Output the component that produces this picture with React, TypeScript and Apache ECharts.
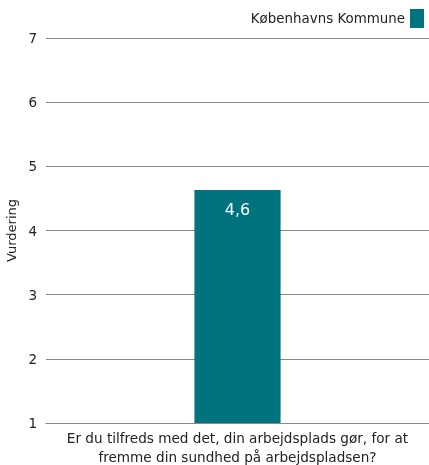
import React, { useEffect, useRef } from "react";
import * as echarts from "echarts";

const categories = ["Er du tilfreds med det, din arbejdsplads gør, for at\nfremme din sundhed på arbejdspladsen?"];
const seriesName = "Københavns Kommune";
const values = [4.63];
const yTicks = [1, 2, 3, 4, 5, 6, 7];

export default function App() {
  const ref = useRef<HTMLDivElement>(null);
  useEffect(() => {
    if (!ref.current) return;
    const chart = echarts.init(ref.current, undefined, { renderer: "svg" });
    const font = "Tahoma, 'DejaVu Sans', sans-serif";
    chart.setOption({
      animation: false,
      textStyle: { fontFamily: font },
      legend: {
        data: [seriesName],
        right: 0,
        top: 4,
        itemWidth: 14,
        itemHeight: 19,
        itemGap: 5,
        align: "right",
        textStyle: { fontSize: 13.4, color: "#222", fontFamily: font },
        icon: "rect",
      },
      grid: { left: 46, right: 0, top: 38, bottom: 42, outerBoundsMode: "none", containLabel: false },
      xAxis: {
        type: "category",
        data: categories,
        axisTick: { show: false },
        axisLine: { lineStyle: { color: "#888" } },
        axisLabel: { fontSize: 13.6, color: "#222", lineHeight: 19, margin: 5, fontFamily: font },
      },
      yAxis: {
        type: "value",
        min: yTicks[0],
        max: yTicks[yTicks.length - 1],
        interval: 1,
        name: "Vurdering",
        nameLocation: "middle",
        nameGap: 24,
        nameTextStyle: { fontSize: 13, color: "#222", fontFamily: font },
        axisLine: { show: false },
        axisTick: { show: false },
        axisLabel: { fontSize: 13.5, color: "#222", margin: 9, fontFamily: font },
        splitLine: { lineStyle: { color: "#888" } },
      },
      series: [
        {
          name: seriesName,
          type: "bar",
          data: values,
          barWidth: "22.5%",
          itemStyle: { color: "#00737F" },
          label: {
            show: true,
            position: "insideTop",
            distance: 11,
            color: "#fff",
            fontSize: 16,
            fontFamily: font,
            formatter: (p: any) => p.value.toFixed(1).replace(".", ","),
          },
        },
      ],
    });
    return () => chart.dispose();
  }, []);
  return <div ref={ref} style={{ position: "fixed", left: 0, top: 0, width: 429, height: 465 }} />;
}
